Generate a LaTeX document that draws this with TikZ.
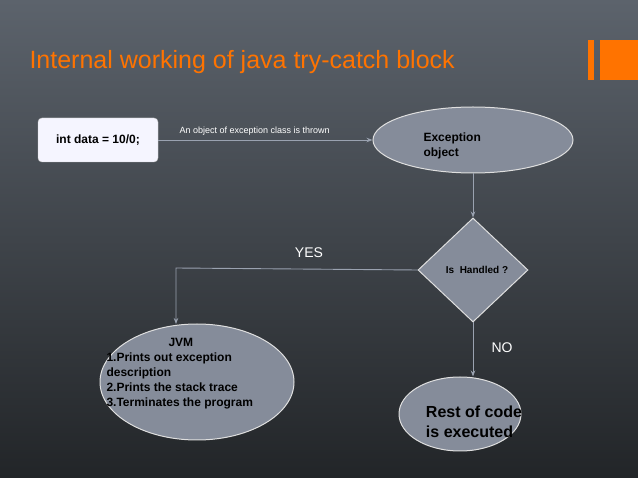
\documentclass[tikz,border=0pt]{standalone}
\usepackage{fontspec}
\setmainfont{Liberation Sans}
\usetikzlibrary{shapes.geometric,arrows.meta}
\definecolor{shpfill}{HTML}{858C9A}
\definecolor{bgtop}{HTML}{5C636C}
\definecolor{bgbot}{HTML}{222528}
\definecolor{conncol}{HTML}{9AA2B0}
\begin{document}
\begin{tikzpicture}[x=1pt,y=-1pt,
  conn/.style={draw=conncol,line width=0.9pt,-{Stealth[length=6pt]}},
  shp/.style={draw=white!75!gray,line width=1pt,fill=shpfill},
  fb/.style={font=\fontsize{12}{15}\selectfont\bfseries},
  lbl/.style={text=white,font=\fontsize{9}{11}\selectfont}]
\useasboundingbox (0,0) rectangle (638,478);
\shade[top color=bgtop,bottom color=bgbot] (0,0) rectangle (638,478);
\node[anchor=west,text=orange!90!red,font=\fontsize{25}{30}\selectfont] (title) at (26,62) {Internal working of java try-catch block};
\fill[orange!90!red] (588,40) rectangle (594,80);
\fill[orange!90!red] (600,40) rectangle (638,80);
\node[draw=white!60!gray,fill=blue!4,rounded corners=4pt,minimum width=120pt,minimum height=44pt,fb] (code) at (98,140) {int data = 10/0;};
\node[shp,ellipse,minimum width=200pt,minimum height=66pt] (exc) at (473,140) {};
\node[anchor=west,fb,align=left] (exct) at (420,146) {Exception\\object};
\node[shp,diamond,minimum width=110pt,minimum height=104pt,inner sep=0pt] (dia) at (473,270) {};
\node[font=\fontsize{10}{12}\selectfont\bfseries] (diat) at (477,270) {Is\ \ Handled ?};
\node[shp,ellipse,minimum width=194pt,minimum height=116pt] (jvm) at (197,382) {};
\node[fb,align=left,anchor=north west] (jvmt) at (103,335) {\hspace*{62pt}JVM\\1.Prints out exception\\description\\2.Prints the stack trace\\3.Terminates the program};
\node[shp,ellipse,minimum width=122pt,minimum height=74pt] (rest) at (460,414) {};
\node[font=\fontsize{16}{20}\selectfont\bfseries,align=left] (restt) at (474,422) {Rest of code\\is executed};
\coordinate (c1) at (176,268);
\draw[conn] (code.east) -- node[lbl,above=1pt,pos=0.45] {An object of exception class is thrown} (exc.west);
\draw[conn] (exc.south) -- (dia.north);
\draw[conn] (dia.west) -- (c1) -- (176,324);
\node[text=white,font=\fontsize{14}{16}\selectfont] (yes) at (309,253) {YES};
\draw[conn] (dia.south) -- (rest.north -| dia.south);
\node[text=white,font=\fontsize{14}{16}\selectfont] (no) at (502,348) {NO};
\end{tikzpicture}
\end{document}
